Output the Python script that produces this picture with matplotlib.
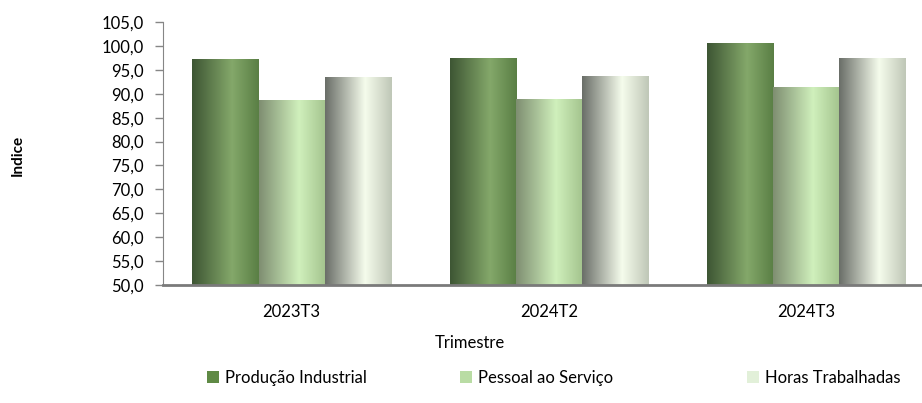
import matplotlib.pyplot as plt
import numpy as np
from matplotlib.colors import to_rgb
from matplotlib.patches import Patch

# === DATA ===
trimestres = ["2023T3", "2024T2", "2024T3"]
series_names = ["Produção Industrial", "Pessoal ao Serviço", "Horas Trabalhadas"]
producao = [97.2, 97.3, 100.5]
pessoal = [88.6, 88.7, 91.4]
horas = [93.4, 93.7, 97.4]

# === STYLE ===
legend_colors = ["#5f8a45", "#b9dca4", "#e2f0d9"]
legend_x = [207, 460, 747]  # left edge of each legend entry, in pixels
# left edge, highlight, right edge of the cylinder shading
gradients = [
    ["#3e5634", "#84a86a", "#5a7f45"],
    ["#7f8f72", "#d0f0bc", "#a4c48e"],
    ["#6b6f69", "#f5fcec", "#c0c8b8"],
]
plt.rcParams["font.family"] = ["Lato", "DejaVu Sans"]
axis_gray = "#868686"


def gradient_row(stops, n=64):
    pos = [0.0, 0.6, 1.0]
    cols = np.array([to_rgb(c) for c in stops])
    t = np.linspace(0, 1, n)
    row = np.stack([np.interp(t, pos, cols[:, k]) for k in range(3)], axis=-1)
    return row[np.newaxis, :, :]


fig = plt.figure(figsize=(9.22, 4.03), dpi=100)
ax = fig.add_axes([163 / 922, 1 - 285 / 403, 1 - 163 / 922, (285 - 22) / 403])

x = np.arange(len(trimestres))
width = 0.257
for i, vals in enumerate([producao, pessoal, horas]):
    bars = ax.bar(x + (i - 1) * width, vals, width, facecolor="none",
                  edgecolor="none", zorder=3)
    img = gradient_row(gradients[i])
    for b in bars:
        x0, w, h = b.get_x(), b.get_width(), b.get_height()
        ax.imshow(img, extent=[x0, x0 + w, 50, h], aspect="auto",
                  interpolation="bilinear", zorder=2)

ax.set_xlim(-0.5, 2.45)
ax.set_ylim(50, 105)
ax.set_yticks(np.arange(50, 106, 5))
ax.set_yticklabels([f"{v:.1f}".replace(".", ",") for v in np.arange(50, 106, 5)])
ax.set_xticks(x)
ax.set_xticklabels(trimestres)
ax.tick_params(axis="y", labelsize=12, color=axis_gray, length=6, width=1, pad=8)
ax.tick_params(axis="x", labelsize=12, length=0, pad=14)

for s in ["top", "right"]:
    ax.spines[s].set_visible(False)
ax.spines["left"].set_color(axis_gray)
ax.spines["bottom"].set_color("#7a7a7a")
ax.spines["bottom"].set_linewidth(2)

fig.text(18 / 922, 1 - 155 / 403, "Indice", rotation=90, ha="center", va="center",
         fontsize=11, fontweight="bold")
fig.text(470 / 922, 1 - 343 / 403, "Trimestre", ha="center", va="center", fontsize=12)

for name, col, lx in zip(series_names, legend_colors, legend_x):
    leg = fig.legend([Patch(facecolor=col, edgecolor="none")], [name],
                     loc="center left", bbox_to_anchor=(lx / 922, 1 - 378 / 403),
                     frameon=False, fontsize=12, handlelength=0.7, handleheight=0.7,
                     handletextpad=0.4, borderpad=0, borderaxespad=0)

fig.savefig("out.png", dpi=100)
